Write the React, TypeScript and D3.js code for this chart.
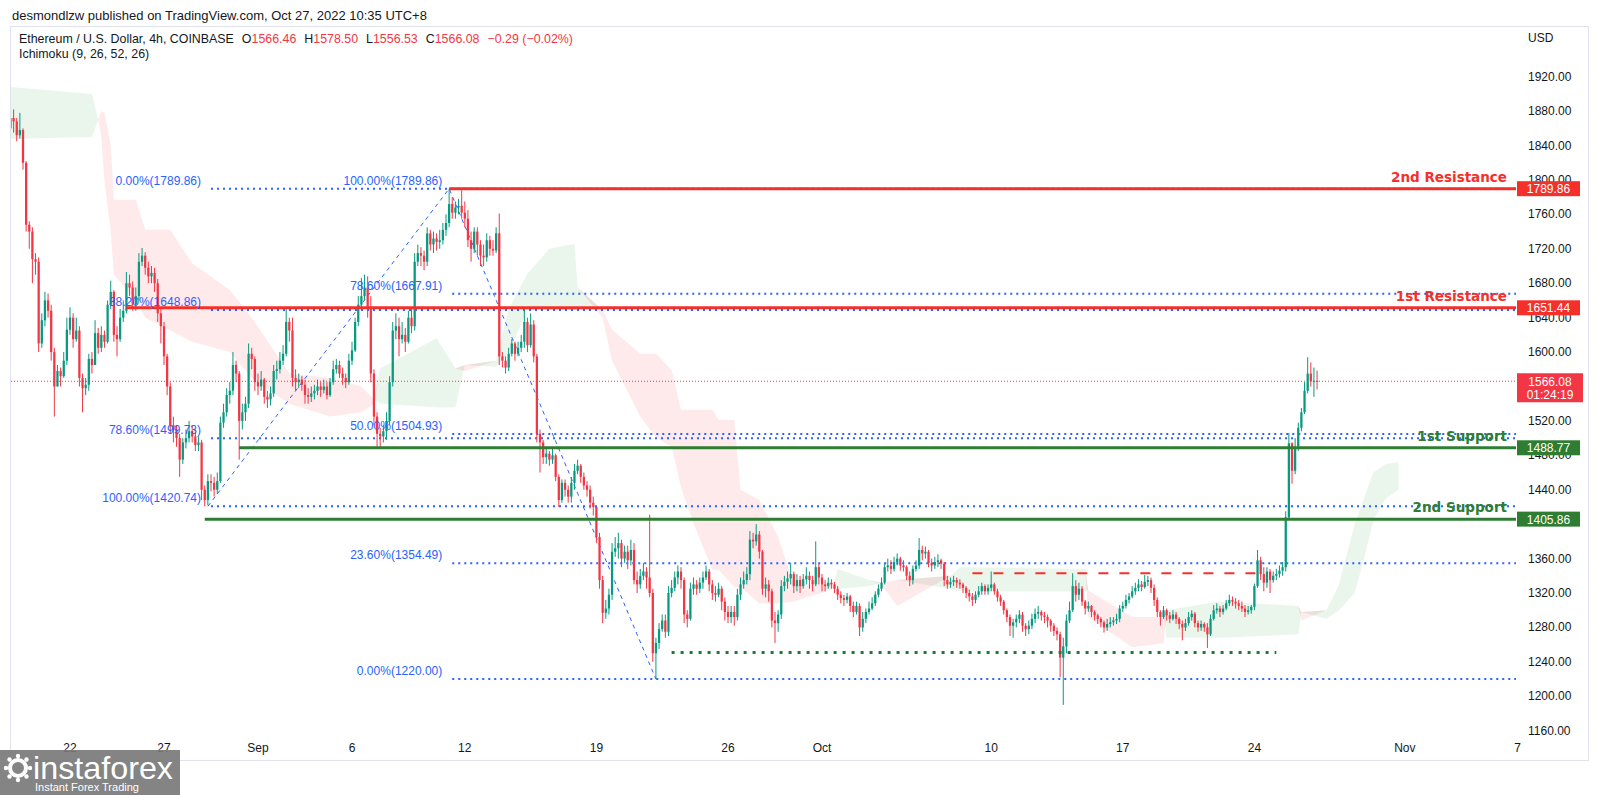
import * as d3 from "d3";

// 4h ETH/USD bars, [high, low, close]; open = previous close
const firstOpen = 1860;
const firstBar = "2022-08-18T20:00:00Z";

const augBars: [number, number, number][] = [
  [1882, 1852, 1872],
  [1882, 1855, 1868], [1872, 1845, 1852], [1878, 1848, 1858], [1860, 1812, 1820], [1822, 1740, 1748], [1752, 1720, 1740],
  [1745, 1680, 1708], [1715, 1690, 1705], [1710, 1600, 1610], [1645, 1605, 1637], [1670, 1630, 1660], [1668, 1640, 1648],
  [1655, 1590, 1600], [1605, 1525, 1560], [1585, 1560, 1578], [1582, 1560, 1572], [1600, 1570, 1590], [1640, 1585, 1626],
  [1652, 1620, 1640], [1645, 1605, 1615], [1640, 1612, 1625], [1630, 1560, 1570], [1575, 1530, 1558], [1570, 1550, 1562],
  [1598, 1555, 1592], [1600, 1575, 1585], [1637, 1585, 1622], [1628, 1598, 1605], [1630, 1600, 1620], [1625, 1605, 1612],
  [1660, 1610, 1655], [1683, 1650, 1670], [1672, 1612, 1620], [1630, 1595, 1615], [1650, 1612, 1640], [1660, 1635, 1648],
  [1693, 1645, 1680], [1690, 1665, 1675], [1682, 1648, 1655], [1675, 1648, 1665], [1715, 1660, 1705], [1721, 1700, 1712],
  [1716, 1690, 1698], [1705, 1680, 1688], [1700, 1680, 1692], [1698, 1670, 1680], [1685, 1635, 1645], [1650, 1610, 1630],
  [1635, 1585, 1595], [1598, 1550, 1560], [1565, 1505, 1515], [1525, 1495, 1510], [1515, 1490, 1500], [1505, 1455, 1475],
  [1500, 1470, 1495], [1510, 1488, 1500], [1520, 1495, 1508], [1515, 1495, 1502], [1510, 1485, 1492], [1502, 1485, 1495],
  [1498, 1428, 1440], [1445, 1420.74, 1428], [1458, 1422, 1450], [1458, 1438, 1448], [1455, 1432, 1440], [1460, 1435, 1450],
  [1525, 1448, 1518], [1540, 1512, 1530], [1558, 1525, 1550], [1565, 1540, 1555], [1600, 1550, 1585], [1590, 1565, 1575],
  [1578, 1475, 1520], [1540, 1510, 1530], [1548, 1520, 1540], [1610, 1535, 1598], [1605, 1580, 1592], [1595, 1555, 1565],
];

const sepBars: [number, number, number][] = [
  [1575, 1550, 1560], [1578, 1555, 1568], [1570, 1540, 1548], [1555, 1535, 1545], [1560, 1538, 1552], [1585, 1548, 1578],
  [1590, 1568, 1580], [1600, 1575, 1590], [1608, 1585, 1598], [1650, 1595, 1635], [1640, 1612, 1625], [1640, 1560, 1570],
  [1580, 1555, 1565], [1575, 1558, 1568], [1572, 1555, 1562], [1568, 1540, 1550], [1558, 1540, 1548], [1560, 1542, 1552],
  [1562, 1545, 1555], [1568, 1550, 1560], [1565, 1548, 1556], [1568, 1552, 1560], [1565, 1545, 1550], [1570, 1548, 1565],
  [1590, 1562, 1580], [1592, 1575, 1585], [1590, 1570, 1575], [1582, 1562, 1570], [1575, 1558, 1565], [1598, 1562, 1590],
  [1612, 1585, 1602], [1640, 1600, 1635], [1665, 1630, 1655], [1686, 1650, 1665], [1690, 1660, 1675], [1688, 1640, 1650],
  [1665, 1565, 1575], [1580, 1515, 1525], [1530, 1490, 1505], [1512, 1488, 1502], [1515, 1495, 1508], [1530, 1498, 1520],
  [1572, 1515, 1565], [1635, 1560, 1625], [1645, 1615, 1630], [1640, 1595, 1615], [1635, 1610, 1620], [1628, 1600, 1612],
  [1648, 1610, 1640], [1650, 1622, 1630], [1715, 1625, 1705], [1725, 1700, 1715], [1722, 1700, 1712], [1718, 1695, 1705],
  [1745, 1700, 1738], [1742, 1718, 1725], [1740, 1715, 1732], [1738, 1718, 1728], [1742, 1720, 1730], [1750, 1725, 1742],
  [1760, 1735, 1750], [1789.86, 1745, 1772], [1780, 1755, 1762], [1775, 1755, 1768], [1778, 1760, 1770], [1788, 1755, 1762],
  [1775, 1745, 1755], [1765, 1722, 1730], [1740, 1705, 1720], [1745, 1715, 1740], [1745, 1712, 1725], [1730, 1700, 1712],
  [1725, 1700, 1710], [1738, 1705, 1730], [1735, 1712, 1720], [1730, 1712, 1718], [1745, 1715, 1738], [1761, 1585, 1595],
  [1600, 1582, 1590], [1595, 1575, 1582], [1605, 1578, 1598], [1615, 1595, 1610], [1612, 1590, 1598], [1612, 1595, 1605],
  [1620, 1600, 1612], [1652, 1605, 1635], [1640, 1600, 1608], [1645, 1605, 1632], [1637, 1588, 1595], [1598, 1495, 1505],
  [1510, 1460, 1495], [1498, 1470, 1478], [1490, 1470, 1482], [1485, 1468, 1475], [1488, 1470, 1480], [1482, 1450, 1455],
  [1458, 1420, 1428], [1452, 1425, 1448], [1452, 1432, 1440], [1445, 1425, 1432], [1455, 1425, 1448], [1470, 1440, 1462],
  [1475, 1458, 1468], [1470, 1448, 1455], [1460, 1440, 1445], [1450, 1432, 1440], [1445, 1418, 1425], [1432, 1410, 1420],
  [1420, 1378, 1385], [1390, 1325, 1335], [1340, 1285, 1297], [1312, 1290, 1302], [1325, 1295, 1318], [1378, 1312, 1368],
  [1385, 1362, 1372], [1390, 1360, 1378], [1382, 1350, 1360], [1375, 1355, 1368], [1375, 1348, 1358], [1382, 1352, 1370],
  [1378, 1330, 1335], [1345, 1320, 1330], [1348, 1325, 1340], [1355, 1335, 1345], [1350, 1325, 1338], [1411, 1315, 1320],
  [1325, 1240, 1250], [1268, 1220, 1262], [1285, 1255, 1278], [1295, 1275, 1288], [1295, 1268, 1275], [1328, 1270, 1320],
  [1335, 1315, 1326], [1345, 1322, 1338], [1352, 1330, 1345], [1350, 1325, 1335], [1338, 1285, 1295], [1300, 1280, 1290],
  [1332, 1288, 1325], [1338, 1318, 1330], [1335, 1318, 1325], [1338, 1320, 1332], [1345, 1325, 1338], [1352, 1335, 1345],
  [1348, 1322, 1330], [1335, 1312, 1320], [1328, 1310, 1318], [1332, 1315, 1325], [1328, 1300, 1310], [1315, 1288, 1298],
  [1305, 1285, 1292], [1305, 1285, 1298], [1305, 1282, 1292], [1325, 1288, 1318], [1338, 1312, 1330], [1345, 1325, 1335],
  [1350, 1330, 1342], [1392, 1335, 1382], [1390, 1372, 1380], [1400, 1375, 1388], [1392, 1360, 1368], [1370, 1318, 1325],
  [1338, 1315, 1330], [1335, 1310, 1322], [1325, 1280, 1288], [1298, 1262, 1285], [1300, 1275, 1295], [1335, 1290, 1328],
  [1340, 1322, 1333], [1345, 1325, 1337], [1355, 1330, 1342], [1345, 1320, 1328], [1342, 1322, 1335], [1340, 1320, 1328],
  [1342, 1325, 1336], [1350, 1330, 1340], [1345, 1325, 1335], [1340, 1322, 1330], [1380, 1328, 1350], [1355, 1330, 1338],
];

const octBars: [number, number, number][] = [
  [1342, 1322, 1330], [1335, 1322, 1328], [1338, 1325, 1332], [1336, 1325, 1330], [1333, 1320, 1325], [1328, 1312, 1318],
  [1322, 1308, 1314], [1318, 1305, 1312], [1320, 1308, 1316], [1318, 1298, 1305], [1310, 1292, 1298], [1310, 1295, 1305],
  [1308, 1270, 1280], [1298, 1275, 1290], [1302, 1285, 1298], [1310, 1295, 1302], [1315, 1300, 1308], [1322, 1305, 1318],
  [1330, 1315, 1325], [1338, 1322, 1332], [1355, 1330, 1350], [1360, 1345, 1352], [1358, 1342, 1348], [1362, 1345, 1356],
  [1366, 1352, 1360], [1362, 1346, 1352], [1358, 1345, 1350], [1352, 1335, 1340], [1345, 1328, 1335], [1352, 1330, 1348],
  [1358, 1345, 1352], [1384, 1348, 1370], [1375, 1358, 1366], [1374, 1360, 1368], [1370, 1350, 1355], [1360, 1345, 1352],
  [1362, 1348, 1356], [1365, 1350, 1358], [1360, 1348, 1354], [1356, 1328, 1335], [1340, 1325, 1330], [1338, 1326, 1333],
  [1340, 1328, 1335], [1338, 1326, 1332], [1336, 1325, 1330], [1332, 1320, 1326], [1328, 1314, 1320], [1324, 1310, 1316],
  [1320, 1305, 1312], [1322, 1308, 1318], [1328, 1315, 1322], [1332, 1318, 1328], [1330, 1318, 1322], [1330, 1318, 1326],
  [1345, 1322, 1330], [1332, 1318, 1322], [1325, 1310, 1315], [1318, 1305, 1310], [1312, 1295, 1300], [1302, 1286, 1292],
  [1295, 1270, 1282], [1290, 1268, 1286], [1295, 1280, 1290], [1300, 1285, 1295], [1298, 1275, 1282], [1285, 1270, 1278],
  [1288, 1272, 1282], [1296, 1278, 1290], [1302, 1285, 1296], [1305, 1290, 1298], [1300, 1288, 1294], [1298, 1285, 1292],
  [1295, 1280, 1288], [1290, 1275, 1282], [1285, 1270, 1276], [1280, 1265, 1272], [1275, 1222, 1245], [1268, 1190, 1258],
  [1295, 1250, 1288], [1310, 1285, 1300], [1343, 1298, 1328], [1335, 1310, 1318], [1332, 1312, 1325], [1328, 1305, 1310],
  [1312, 1295, 1302], [1310, 1298, 1305], [1306, 1292, 1298], [1300, 1288, 1294], [1296, 1284, 1290], [1292, 1280, 1286],
  [1288, 1274, 1280], [1290, 1276, 1284], [1292, 1280, 1286], [1292, 1282, 1288], [1296, 1284, 1290], [1306, 1286, 1302],
  [1310, 1298, 1305], [1318, 1302, 1312], [1320, 1308, 1316], [1328, 1314, 1322], [1332, 1318, 1326], [1336, 1322, 1330],
  [1334, 1322, 1327], [1341, 1325, 1333], [1340, 1328, 1335], [1338, 1320, 1326], [1330, 1305, 1312], [1315, 1292, 1298],
  [1300, 1282, 1292], [1305, 1290, 1300], [1302, 1288, 1294], [1298, 1285, 1290], [1300, 1288, 1295], [1298, 1284, 1290],
  [1292, 1278, 1284], [1288, 1265, 1280], [1290, 1276, 1285], [1298, 1282, 1292], [1300, 1288, 1296], [1298, 1280, 1285],
  [1288, 1275, 1280], [1288, 1276, 1284], [1286, 1275, 1280], [1285, 1256, 1272], [1295, 1270, 1290], [1306, 1288, 1300],
  [1308, 1296, 1302], [1305, 1292, 1298], [1306, 1295, 1302], [1312, 1300, 1308], [1318, 1305, 1312], [1316, 1305, 1310],
  [1314, 1302, 1308], [1312, 1300, 1305], [1310, 1298, 1302], [1306, 1292, 1298], [1305, 1295, 1300], [1306, 1296, 1304],
  [1331, 1300, 1328], [1370, 1326, 1358], [1362, 1335, 1342], [1350, 1322, 1332], [1350, 1326, 1345], [1348, 1320, 1335],
  [1345, 1332, 1340], [1348, 1335, 1342], [1352, 1338, 1346], [1356, 1340, 1350], [1415, 1345, 1408], [1506, 1405, 1494],
  [1495, 1447, 1462], [1500, 1458, 1490], [1518, 1485, 1512], [1535, 1508, 1530], [1565, 1528, 1555], [1594, 1552, 1575],
  [1588, 1560, 1566], [1582, 1548, 1566.46], [1578.5, 1556.53, 1566.08],
];

// Ichimoku cloud edges (leading span A / span B)
const cloudDates = [
  "2022-08-18T20", "2022-08-23T04", "2022-08-23T12", "2022-08-23T16", "2022-08-23T20", "2022-08-24T04",
  "2022-08-24T08", "2022-08-25T12", "2022-08-26T00", "2022-08-27T08", "2022-08-28T12", "2022-08-30T12",
  "2022-08-31T16", "2022-09-02T16", "2022-09-04T20", "2022-09-06T12", "2022-09-07T04", "2022-09-07T12",
  "2022-09-10T12", "2022-09-11T12", "2022-09-12T00", "2022-09-13T16", "2022-09-14T08", "2022-09-15T08",
  "2022-09-16T12", "2022-09-17T20", "2022-09-18T00", "2022-09-19T08", "2022-09-19T20", "2022-09-21T08",
  "2022-09-22T04", "2022-09-23T00", "2022-09-23T12", "2022-09-24T04", "2022-09-25T04", "2022-09-25T12",
  "2022-09-26T08", "2022-09-26T16", "2022-09-27T16", "2022-09-28T16", "2022-09-29T12", "2022-10-01T16",
  "2022-10-01T20", "2022-10-03T12", "2022-10-04T04", "2022-10-05T00", "2022-10-07T20", "2022-10-08T08",
  "2022-10-15T00", "2022-10-15T04", "2022-10-17T12", "2022-10-19T04", "2022-10-19T08", "2022-10-22T04",
  "2022-10-26T08", "2022-10-26T12", "2022-10-27T20", "2022-10-28T12", "2022-10-29T08", "2022-10-29T20",
  "2022-10-30T08", "2022-10-31T00", "2022-10-31T16",
];
const spanA = [
  1908, 1900, 1870, 1850, 1800, 1740, 1690, 1660, 1640, 1625, 1612, 1600, 1570, 1540, 1525, 1530, 1540, 1581,
  1616, 1581, 1578, 1590, 1650, 1691, 1720, 1726, 1675, 1640, 1590, 1525, 1501, 1490, 1443, 1401, 1347, 1347,
  1327, 1327, 1308, 1308, 1310, 1325, 1348, 1335, 1330, 1305, 1340, 1350, 1348, 1292, 1257, 1262, 1300, 1310,
  1305, 1288, 1300, 1330, 1400, 1430, 1460, 1470, 1472,
];
const spanB = [
  1848, 1850, 1870, 1880, 1878, 1840, 1777, 1777, 1742, 1742, 1703, 1672, 1640, 1575, 1570, 1560, 1545, 1540,
  1536, 1536, 1585, 1583, 1600, 1649, 1649, 1649, 1649, 1649, 1626, 1598, 1598, 1579, 1533, 1533, 1533, 1521,
  1521, 1440, 1428, 1385, 1330, 1330, 1325, 1328, 1332, 1335, 1325, 1322, 1322, 1323, 1292, 1292, 1268, 1268,
  1272, 1298, 1290, 1300, 1320, 1360, 1405, 1430, 1440,
];

// levels
const srLabels = ["2nd Resistance", "1st Resistance", "1st Support", "2nd Support"];
const srValues = [1789.86, 1651.44, 1488.77, 1405.86];
const srStarts = ["2022-09-11T04", "2022-08-25T00", "2022-08-31T00", "2022-08-29T04"];
const srKinds = ["res", "res", "sup", "sup"];

const fibLeftPct = ["0.00%", "38.20%", "78.60%", "100.00%"];
const fibLeftVals = [1789.86, 1648.86, 1499.73, 1420.74];
const fibRightPct = ["100.00%", "78.60%", "50.00%", "23.60%", "0.00%"];
const fibRightVals = [1789.86, 1667.91, 1504.93, 1354.49, 1220.0];
const fibLeftStart = "2022-08-29T12";
const fibRightStart = "2022-09-11T08";
const trendPoints: [string, number][] = [
  ["2022-08-29T08", 1420.74],
  ["2022-09-11T04", 1789.86],
  ["2022-09-22T04", 1220.0],
];

const floorLevel = 1251;
const floorRange = ["2022-09-23T00", "2022-10-25T04"];
const capLevel = 1343;
const capRange = ["2022-10-09T00", "2022-10-24T04"];

const lastPrice = 1566.08;
const countdown = "01:24:19";

// 1560 and 1400 sit fully under the price tags, so they are not drawn
const priceTicks = d3.range(1160, 1921, 40).filter((v) => v !== 1560 && v !== 1400);
const timeTickDates = ["2022-08-22", "2022-08-27", "2022-09-01", "2022-09-06", "2022-09-12", "2022-09-19", "2022-09-26", "2022-10-01", "2022-10-10", "2022-10-17", "2022-10-24", "2022-11-01", "2022-11-07"];
const timeTickLabels = ["22", "27", "Sep", "6", "12", "19", "26", "Oct", "10", "17", "24", "Nov", "7"];

const parse = (s: string) => new Date(s.length <= 10 ? s + "T00:00:00Z" : s.length === 13 ? s + ":00:00Z" : s);

const FONT = "'Liberation Sans', Arial, sans-serif";
const UP = "#089981";
const DOWN = "#f23645";
const RED = "#f5302a";
const GREEN = "#2e7d32";
const BLUE = "#2962ff";

const PLOT_L = 11;
const PLOT_R = 1516;
const PLOT_T = 27;
const PLOT_B = 761;

export default function App() {
  const x = d3
    .scaleUtc()
    .domain([parse("2022-08-22"), parse("2022-11-07")])
    .range([70, 1517.6]);
  const y = d3.scaleLinear().domain([1160, 1920]).range([730.7, 76.7]);

  const bars = [...augBars, ...sepBars, ...octBars];
  const t0 = parse(firstBar).getTime();
  const candles = bars.map((b, i) => ({
    t: new Date(t0 + i * 4 * 3600 * 1000),
    o: i === 0 ? firstOpen : bars[i - 1][2],
    h: b[0],
    l: b[1],
    c: b[2],
  }));
  const bw = (x(new Date(t0 + 4 * 3600 * 1000)) - x(new Date(t0))) * 0.72;

  const cloud = cloudDates.map((d, i) => ({ t: parse(d), a: spanA[i], b: spanB[i] }));
  const greenArea = d3
    .area<(typeof cloud)[number]>()
    .x((d) => x(d.t))
    .y0((d) => y(d.b))
    .y1((d) => y(Math.max(d.a, d.b)));
  const redArea = d3
    .area<(typeof cloud)[number]>()
    .x((d) => x(d.t))
    .y0((d) => y(d.a))
    .y1((d) => y(Math.max(d.a, d.b)));

  const trendLine = d3
    .line<[string, number]>()
    .x((d) => x(parse(d[0])))
    .y((d) => y(d[1]));

  const boxes = srValues.map((v, i) => ({ v, color: srKinds[i] === "res" ? RED : GREEN, text: v.toFixed(2) }));

  return (
    <div style={{ position: "absolute", left: 0, top: 0, width: 1600, height: 795, background: "#fff" }}>
      <svg width={1600} height={795} style={{ display: "block" }} fontFamily={FONT}>
        <defs>
          <clipPath id="plot">
            <rect x={PLOT_L} y={PLOT_T} width={PLOT_R - PLOT_L} height={PLOT_B - PLOT_T} />
          </clipPath>
        </defs>
        <rect width={1600} height={795} fill="#fff" />

        <text x={12} y={20} fontSize={13} fill="#131722">
          desmondlzw published on TradingView.com, Oct 27, 2022 10:35 UTC+8
        </text>
        <rect x={10.5} y={26.5} width={1578} height={734} fill="none" stroke="#e0e3eb" />

        <g clipPath="url(#plot)">
          {/* ichimoku cloud */}
          <path d={greenArea(cloud) ?? ""} fill="#43a047" fillOpacity={0.11} />
          <path d={redArea(cloud) ?? ""} fill="#f23645" fillOpacity={0.11} />

          {/* fib retracements */}
          {fibLeftVals.map((v, i) => (
            <line key={"fl" + i} x1={x(parse(fibLeftStart))} x2={PLOT_R} y1={y(v)} y2={y(v)} stroke={BLUE} strokeWidth={2} strokeDasharray="2 4" />
          ))}
          {fibRightVals.map((v, i) => (
            <line key={"fr" + i} x1={x(parse(fibRightStart))} x2={PLOT_R} y1={y(v)} y2={y(v)} stroke={BLUE} strokeWidth={2} strokeDasharray="2 4" />
          ))}
          <path d={trendLine(trendPoints) ?? ""} fill="none" stroke={BLUE} strokeWidth={1} strokeDasharray="4 4" />

          {/* last price */}
          <line x1={PLOT_L} x2={PLOT_R} y1={y(lastPrice)} y2={y(lastPrice)} stroke={DOWN} strokeWidth={1} strokeDasharray="1 2" />

          {/* candles */}
          {candles.map((d, i) => {
            const col = d.c >= d.o ? UP : DOWN;
            const cx = x(d.t);
            const top = y(Math.max(d.o, d.c));
            const h = Math.max(1, Math.abs(y(d.o) - y(d.c)));
            return (
              <g key={i}>
                <line x1={cx} x2={cx} y1={y(d.h)} y2={y(d.l)} stroke={col} strokeWidth={1} />
                <rect x={cx - bw / 2} y={top} width={bw} height={h} fill={col} />
              </g>
            );
          })}

          {/* range floor / cap */}
          <line x1={x(parse(floorRange[0]))} x2={x(parse(floorRange[1]))} y1={y(floorLevel)} y2={y(floorLevel)} stroke="#1e7b34" strokeWidth={3} strokeDasharray="3 6" />
          <line x1={x(parse(capRange[0]))} x2={x(parse(capRange[1]))} y1={y(capLevel)} y2={y(capLevel)} stroke={RED} strokeWidth={2} strokeDasharray="10 11" />

          {/* support / resistance */}
          {srValues.map((v, i) => (
            <line key={"sr" + i} x1={x(parse(srStarts[i]))} x2={PLOT_R} y1={y(v)} y2={y(v)} stroke={srKinds[i] === "res" ? RED : GREEN} strokeWidth={3} />
          ))}
        </g>

        {/* fib labels */}
        {fibLeftVals.map((v, i) => (
          <text key={"flt" + i} x={x(parse(fibLeftStart)) - 10} y={y(v) - 4} fontSize={12} fill={BLUE} textAnchor="end">
            {fibLeftPct[i]}({v.toFixed(2)})
          </text>
        ))}
        {fibRightVals.map((v, i) => (
          <text key={"frt" + i} x={x(parse(fibRightStart)) - 10} y={y(v) - 4} fontSize={12} fill={BLUE} textAnchor="end">
            {fibRightPct[i]}({v.toFixed(2)})
          </text>
        ))}

        {srValues.map((v, i) => (
          <text key={"srt" + i} x={1507} y={y(v) - 7} fontSize={13.5} fontWeight="bold" fontFamily="'DejaVu Sans', sans-serif" fill={srKinds[i] === "res" ? RED : GREEN} textAnchor="end">
            {srLabels[i]}
          </text>
        ))}

        {/* legend */}
        <text x={19} y={43} fontSize={12.4} fill="#131722">
          <tspan>Ethereum / U.S. Dollar, 4h, COINBASE</tspan>
          <tspan dx={8}>O</tspan>
          <tspan fill={DOWN}>1566.46</tspan>
          <tspan dx={8}>H</tspan>
          <tspan fill={DOWN}>1578.50</tspan>
          <tspan dx={8}>L</tspan>
          <tspan fill={DOWN}>1556.53</tspan>
          <tspan dx={8}>C</tspan>
          <tspan fill={DOWN}>1566.08</tspan>
          <tspan dx={8} fill={DOWN}>−0.29 (−0.02%)</tspan>
        </text>
        <text x={19} y={58} fontSize={12.4} fill="#131722">
          Ichimoku (9, 26, 52, 26)
        </text>

        {/* price axis */}
        <text x={1528} y={42} fontSize={12} fill="#131722">USD</text>
        {priceTicks.map((v) => (
          <text key={v} x={1528} y={y(v) + 4} fontSize={12} fill="#131722">
            {v.toFixed(2)}
          </text>
        ))}
        {boxes.map((b, i) => (
          <g key={"bx" + i}>
            <rect x={1517} y={y(b.v) - 7.5} width={63} height={15} fill={b.color} />
            <text x={1548.5} y={y(b.v) + 4.5} fontSize={12} fill="#fff" textAnchor="middle">
              {b.text}
            </text>
          </g>
        ))}
        <rect x={1517} y={y(lastPrice) - 8} width={66} height={29} fill={DOWN} />
        <text x={1550} y={y(lastPrice) + 4.5} fontSize={12} fill="#fff" textAnchor="middle">
          {lastPrice.toFixed(2)}
        </text>
        <text x={1550} y={y(lastPrice) + 18} fontSize={12} fill="#fff" textAnchor="middle">
          {countdown}
        </text>

        {/* time axis */}
        {timeTickDates.map((d, i) => (
          <text key={d} x={x(parse(d))} y={752} fontSize={12} fill="#131722" textAnchor="middle">
            {timeTickLabels[i]}
          </text>
        ))}

        {/* watermark */}
        <g>
          <rect x={0} y={750} width={180} height={45} fill="#7a7a7a" fillOpacity={0.92} />
          <circle cx={18} cy={768} r={8} fill="none" stroke="#fff" strokeWidth={4} />
          {d3.range(8).map((k) => {
            const a = (k * Math.PI) / 4;
            return <circle key={k} cx={18 + Math.cos(a) * 12} cy={768 + Math.sin(a) * 12} r={2.2} fill="#fff" />;
          })}
          <text x={33} y={779} fontSize={32} fill="#fff" fontFamily="'Liberation Sans Narrow', 'Liberation Sans', sans-serif" textLength={140} lengthAdjust="spacingAndGlyphs">
            instaforex
          </text>
          <text x={35} y={791} fontSize={11} fill="#fff" fontFamily="'Liberation Sans Narrow', 'Liberation Sans', sans-serif">
            Instant Forex Trading
          </text>
        </g>
      </svg>
    </div>
  );
}
